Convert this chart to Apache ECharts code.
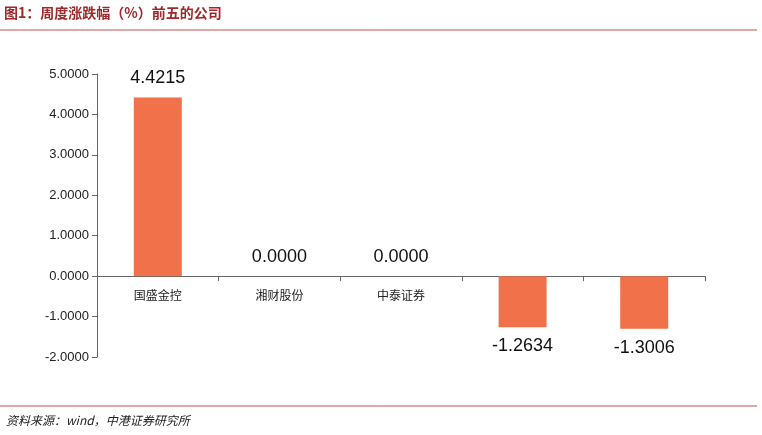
<!DOCTYPE html>
<html><head><meta charset="utf-8">
<script src="https://cdn.jsdelivr.net/npm/echarts@6/dist/echarts.min.js"></script>
<style>html,body{margin:0;padding:0;background:#fff}#c{width:762px;height:435px}</style>
</head><body><div id="c"></div>
<script>
const categories = ['国盛金控','湘财股份','中泰证券','广发证券','财达证券'];
const values = [4.4215, 0.0000, 0.0000, -1.2634, -1.3006];
const yTicks = {min:-2, max:5, interval:1};
const chart = echarts.init(document.getElementById('c'));
chart.setOption({
  animation:false,
  graphic:[
    {type:'text',left:4,top:6,style:{text:'图1：周度涨跌幅（%）前五的公司',fill:'#A0282B',font:'bold 14px "Noto Sans CJK SC"'}},
    {type:'line',shape:{x1:0,y1:30,x2:757,y2:30},style:{stroke:'#C0504D',lineWidth:1}},
    {type:'line',shape:{x1:0,y1:406,x2:757,y2:406},style:{stroke:'#C0504D',lineWidth:1}},
    {type:'text',left:6,top:414,style:{text:'资料来源：wind，中港证券研究所',fill:'#222',font:'italic 12px "Noto Sans CJK SC"'}}
  ],
  grid:{left:97,right:57,top:74,bottom:78},
  xAxis:{type:'category',data:categories,axisLine:{onZero:true,lineStyle:{color:'#666'}},
    axisTick:{show:true,lineStyle:{color:'#666'}},
    axisLabel:{color:'#222',fontSize:12,fontFamily:'Noto Sans CJK SC',margin:-68}},
  yAxis:{type:'value',min:yTicks.min,max:yTicks.max,interval:yTicks.interval,
    axisLine:{show:true,lineStyle:{color:'#666'}},axisTick:{show:true,lineStyle:{color:'#666'}},
    splitLine:{show:false},
    axisLabel:{color:'#222',fontSize:13,fontFamily:'Liberation Sans',formatter:v=>v.toFixed(4)}},
  series:[{type:'bar',data:values.map(v=>({value:v,label:{position:v>=0?'top':'bottom'}})),barWidth:48,itemStyle:{color:'#F0714A'},
    label:{show:true,color:'#111',fontSize:18,fontFamily:'Liberation Sans',distance:10,
      formatter:p=>p.value.toFixed(4)}}]
});
</script></body></html>
